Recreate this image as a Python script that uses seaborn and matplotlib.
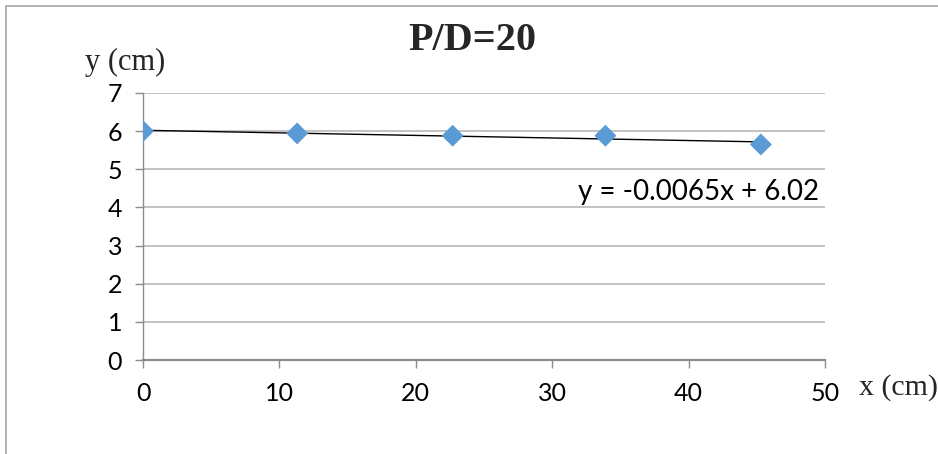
import numpy as np
import pandas as pd
import seaborn as sns
import matplotlib.pyplot as plt
from matplotlib.patches import Rectangle

# ==========================================
# data
# ==========================================
x_cm = [0.0, 11.3, 22.7, 33.9, 45.3]
y_cm = [6.00, 5.94, 5.88, 5.88, 5.65]
x_ticks = [0, 10, 20, 30, 40, 50]
y_ticks = [0, 1, 2, 3, 4, 5, 6, 7]
title_text = 'P/D=20'
fit_label = 'y = -0.0065x + 6.02'

df = pd.DataFrame({'x': x_cm, 'y': y_cm})

# ==========================================
# styling
# ==========================================
sns.set_theme(style='white')
plt.rcParams['font.family'] = ['Lato', 'DejaVu Sans']

MARKER_BLUE = '#5b9bd5'
GRID_GRAY = '#b8b8b8'
AXIS_GRAY = '#8c8c8c'
SERIF = ['Liberation Serif', 'DejaVu Serif']

fig = plt.figure(figsize=(9.38, 4.54), dpi=100)
ax = fig.add_axes([0.1525, 0.2070, 0.7270, 0.5882])

# trend line (linear fit, black) + diamonds
sns.regplot(data=df, x='x', y='y', scatter=False, ci=None, ax=ax,
            line_kws={'color': 'black', 'lw': 1.0, 'zorder': 2})
sns.scatterplot(data=df, x='x', y='y', marker='D', s=125, color=MARKER_BLUE,
                edgecolor='none', ax=ax, zorder=3)

ax.set_xlim(0, 50)
ax.set_ylim(0, 7)
ax.set_xticks(x_ticks)
ax.set_yticks(y_ticks)
ax.set_xlabel('')
ax.set_ylabel('')

# horizontal gridlines only
ax.grid(False)
for v in y_ticks[1:]:
    ax.axhline(v, color=GRID_GRAY, lw=1.2, zorder=0)

for side in ['top', 'right']:
    ax.spines[side].set_visible(False)
ax.spines['left'].set_color(AXIS_GRAY)
ax.spines['left'].set_linewidth(1.0)
ax.spines['bottom'].set_color(AXIS_GRAY)
ax.spines['bottom'].set_linewidth(1.6)

ax.tick_params(axis='both', which='major', direction='out', length=6, width=1.0,
               color=AXIS_GRAY, labelsize=18, labelcolor='black')
ax.tick_params(axis='y', pad=9, left=True)
ax.tick_params(axis='x', pad=10, bottom=True)

# equation of the trend line
ax.text(40.7, 4.40, fit_label, ha='center', va='center', fontsize=20, color='black')

# title and axis labels as in the original (serif)
fig.text(472 / 938, 1 - 41 / 454, title_text, ha='center', va='center',
         fontsize=29, fontweight='bold', family=SERIF)
fig.text(125 / 938, 1 - 62 / 454, 'y (cm)', ha='center', va='center',
         fontsize=22, family=SERIF)
fig.text(898 / 938, 1 - 388 / 454, 'x (cm)', ha='center', va='center',
         fontsize=21.5, family=SERIF)

# chart-area border (only left and top edges fall inside the picture)
border = Rectangle((6 / 938, -0.1), 1.2, 1 - 5.5 / 454 + 0.1, transform=fig.transFigure,
                   fill=False, edgecolor='#a6a6a6', lw=1.2, clip_on=False)
fig.patches.append(border)

fig.savefig('out.png', dpi=100, facecolor='white')
